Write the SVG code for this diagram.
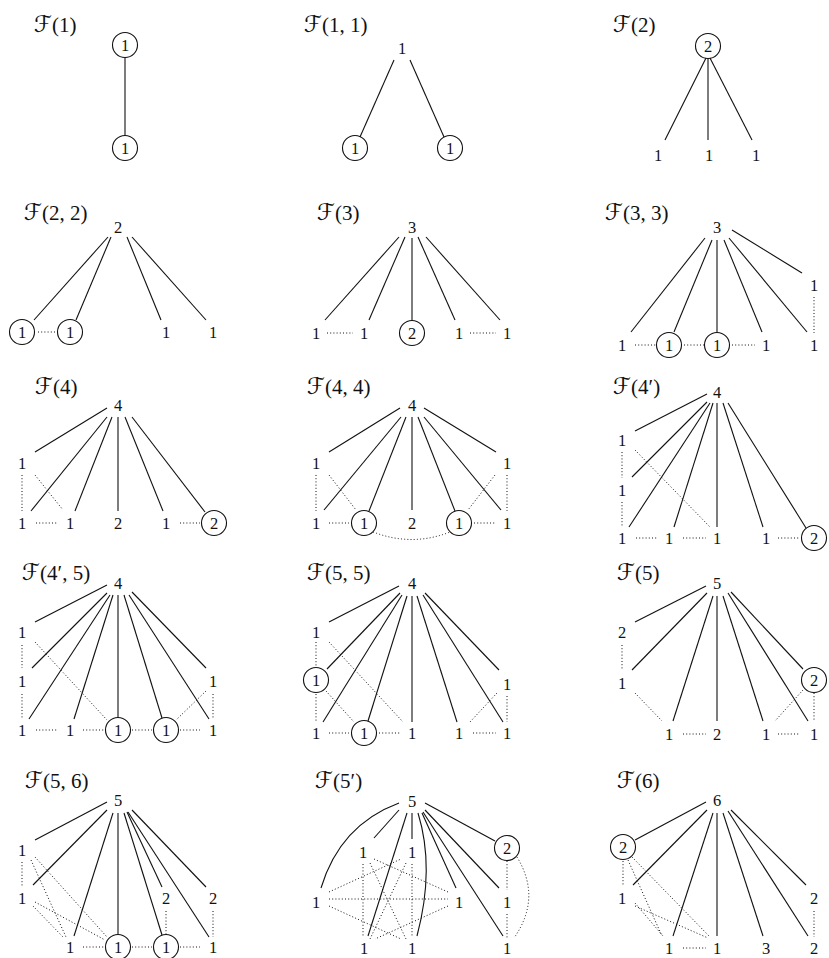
<svg xmlns="http://www.w3.org/2000/svg" width="829" height="958" viewBox="0 0 829 958">
<style>
.bg{fill:#fff}
.lbl{font-family:"Liberation Serif","DejaVu Serif","DejaVu Sans",serif;font-size:21px;fill:#111}
.sf{font-family:"DejaVu Serif","DejaVu Sans",serif;font-size:23px;font-style:italic}
.n{font-family:"Liberation Serif","DejaVu Serif",serif;font-size:16.5px;fill:#111;text-anchor:middle;dominant-baseline:central}
.c{fill:none;stroke:#111;stroke-width:1.1}
.s line,.s path{stroke:#111;stroke-width:1.1;fill:none}
.d line,.d path{stroke:#111;stroke-width:1;stroke-dasharray:1 2.2;fill:none}
</style>
<rect class="bg" x="0" y="0" width="829" height="958"/>

<!-- F(1) -->
<g id="F1">
<text class="lbl" x="34" y="32"><tspan class="sf">ℱ</tspan>(1)</text>
<g id="F1-edges"><g class="s"><line x1="125" y1="57.5" x2="125" y2="135.5"/></g></g>
<g id="F1-a"><circle class="c" cx="125" cy="45" r="12.5"/><text class="n" x="125" y="45">1</text></g>
<g id="F1-b"><circle class="c" cx="125" cy="148" r="12.5"/><text class="n" x="125" y="148">1</text></g>
</g>

<!-- F(1,1) -->
<g id="F11">
<text class="lbl" x="304" y="32"><tspan class="sf">ℱ</tspan>(1, 1)</text>
<g id="F11-edges"><g class="s"><line x1="394" y1="60" x2="360" y2="137"/><line x1="410" y1="60" x2="444" y2="137"/></g></g>
<g id="F11-t"><text class="n" x="402" y="48">1</text></g>
<g id="F11-a"><circle class="c" cx="355" cy="148" r="12.5"/><text class="n" x="355" y="148">1</text></g>
<g id="F11-b"><circle class="c" cx="450" cy="148" r="12.5"/><text class="n" x="450" y="148">1</text></g>
</g>

<!-- F(2) -->
<g id="F2">
<text class="lbl" x="613" y="32"><tspan class="sf">ℱ</tspan>(2)</text>
<g id="F2-edges"><g class="s"><line x1="706" y1="58" x2="665" y2="140"/><line x1="708" y1="58.5" x2="708" y2="140"/><line x1="710" y1="58" x2="752" y2="140"/></g></g>
<g id="F2-t"><circle class="c" cx="708" cy="46" r="12.5"/><text class="n" x="708" y="46">2</text></g>
<g id="F2-a"><text class="n" x="658" y="155">1</text></g>
<g id="F2-b"><text class="n" x="709" y="155">1</text></g>
<g id="F2-c"><text class="n" x="756" y="155">1</text></g>
</g>

<!-- F(2,2) -->
<g id="F22">
<text class="lbl" x="24" y="220"><tspan class="sf">ℱ</tspan>(2, 2)</text>
<g id="F22-edges">
<g class="s"><line x1="108" y1="237" x2="34" y2="320"/><line x1="111" y1="237" x2="76" y2="320"/><line x1="127" y1="237" x2="161" y2="320"/><line x1="132" y1="237" x2="206" y2="320"/></g>
<g class="d"><line x1="38" y1="332" x2="55" y2="332"/></g>
</g>
<g id="F22-t"><text class="n" x="118" y="227">2</text></g>
<g id="F22-a"><circle class="c" cx="22" cy="332" r="12.5"/><text class="n" x="22" y="332">1</text></g>
<g id="F22-b"><circle class="c" cx="70" cy="332" r="12.5"/><text class="n" x="70" y="332">1</text></g>
<g id="F22-c"><text class="n" x="166" y="332">1</text></g>
<g id="F22-d"><text class="n" x="213" y="332">1</text></g>
</g>

<!-- F(3) -->
<g id="F3">
<text class="lbl" x="317" y="220"><tspan class="sf">ℱ</tspan>(3)</text>
<g id="F3-edges">
<g class="s"><line x1="399" y1="237" x2="325" y2="320"/><line x1="405" y1="237" x2="369" y2="320"/><line x1="412" y1="238" x2="412" y2="320.5"/><line x1="418" y1="237" x2="455" y2="320"/><line x1="426" y1="237" x2="500" y2="320"/></g>
<g class="d"><line x1="327" y1="333" x2="353" y2="333"/><line x1="470" y1="333" x2="496" y2="333"/></g>
</g>
<g id="F3-t"><text class="n" x="412" y="227">3</text></g>
<g id="F3-a"><text class="n" x="316" y="333">1</text></g>
<g id="F3-b"><text class="n" x="364" y="333">1</text></g>
<g id="F3-c"><circle class="c" cx="412" cy="333" r="12.5"/><text class="n" x="412" y="333">2</text></g>
<g id="F3-d"><text class="n" x="459" y="333">1</text></g>
<g id="F3-e"><text class="n" x="507" y="333">1</text></g>
</g>

<!-- F(3,3) -->
<g id="F33">
<text class="lbl" x="605" y="220"><tspan class="sf">ℱ</tspan>(3, 3)</text>
<g id="F33-edges">
<g class="s"><line x1="705" y1="238" x2="631" y2="332"/><line x1="712" y1="240" x2="674" y2="332"/><line x1="717" y1="240" x2="717" y2="332.5"/><line x1="724" y1="240" x2="762" y2="332"/><line x1="729" y1="238" x2="807" y2="332"/><line x1="732" y1="230" x2="802" y2="273"/></g>
<g class="d"><line x1="814" y1="297" x2="814" y2="333"/><line x1="635" y1="345" x2="656" y2="345"/><line x1="684" y1="345" x2="704" y2="345"/><line x1="732" y1="345" x2="755" y2="345"/></g>
</g>
<g id="F33-t"><text class="n" x="717" y="227">3</text></g>
<g id="F33-u"><text class="n" x="814" y="285">1</text></g>
<g id="F33-a"><text class="n" x="622" y="345">1</text></g>
<g id="F33-b"><circle class="c" cx="669" cy="345" r="12.5"/><text class="n" x="669" y="345">1</text></g>
<g id="F33-c"><circle class="c" cx="717" cy="345" r="12.5"/><text class="n" x="717" y="345">1</text></g>
<g id="F33-d"><text class="n" x="766" y="345">1</text></g>
<g id="F33-e"><text class="n" x="814" y="345">1</text></g>
</g>

<!-- F(4) -->
<g id="F4">
<text class="lbl" x="35" y="394"><tspan class="sf">ℱ</tspan>(4)</text>
<g id="F4-edges">
<g class="s"><line x1="107" y1="408" x2="35" y2="452"/><line x1="107" y1="417" x2="31" y2="511"/><line x1="112" y1="417" x2="75" y2="511"/><line x1="118" y1="417" x2="118" y2="511"/><line x1="125" y1="417" x2="163" y2="511"/><line x1="132" y1="417" x2="205" y2="512"/></g>
<g class="d"><line x1="22" y1="475" x2="22" y2="511"/><line x1="35" y1="475" x2="63" y2="510"/><line x1="36" y1="523" x2="58" y2="523"/><line x1="180" y1="523" x2="200" y2="523"/></g>
</g>
<g id="F4-t"><text class="n" x="118" y="405">4</text></g>
<g id="F4-u"><text class="n" x="22" y="463">1</text></g>
<g id="F4-a"><text class="n" x="22" y="523">1</text></g>
<g id="F4-b"><text class="n" x="70" y="523">1</text></g>
<g id="F4-c"><text class="n" x="118" y="523">2</text></g>
<g id="F4-d"><text class="n" x="166" y="523">1</text></g>
<g id="F4-e"><circle class="c" cx="214" cy="523" r="12.5"/><text class="n" x="214" y="523">2</text></g>
</g>

<!-- F(4,4) -->
<g id="F44">
<text class="lbl" x="307" y="394"><tspan class="sf">ℱ</tspan>(4, 4)</text>
<g id="F44-edges">
<g class="s"><line x1="400" y1="408" x2="329" y2="452"/><line x1="401" y1="417" x2="324" y2="510"/><line x1="406" y1="417" x2="369" y2="511"/><line x1="412" y1="417" x2="412" y2="510"/><line x1="418" y1="417" x2="455" y2="511"/><line x1="424" y1="417" x2="501" y2="510"/><line x1="424" y1="408" x2="496" y2="452"/></g>
<g class="d"><line x1="316" y1="475" x2="316" y2="511"/><line x1="507" y1="475" x2="507" y2="511"/><line x1="329" y1="475" x2="356" y2="510"/><line x1="495" y1="475" x2="468" y2="510"/><line x1="329" y1="523" x2="349" y2="523"/><line x1="474" y1="523" x2="495" y2="523"/><path d="M 373 532 Q 412 547 450 532"/></g>
</g>
<g id="F44-t"><text class="n" x="412" y="405">4</text></g>
<g id="F44-u"><text class="n" x="316" y="463">1</text></g>
<g id="F44-v"><text class="n" x="507" y="463">1</text></g>
<g id="F44-a"><text class="n" x="316" y="523">1</text></g>
<g id="F44-b"><circle class="c" cx="364" cy="523" r="12.5"/><text class="n" x="364" y="523">1</text></g>
<g id="F44-c"><text class="n" x="412" y="523">2</text></g>
<g id="F44-d"><circle class="c" cx="459" cy="523" r="12.5"/><text class="n" x="459" y="523">1</text></g>
<g id="F44-e"><text class="n" x="507" y="523">1</text></g>
</g>

<!-- F(4') -->
<g id="F4p">
<text class="lbl" x="613" y="394"><tspan class="sf">ℱ</tspan>(4′)</text>
<g id="F4p-edges">
<g class="s"><line x1="707" y1="394" x2="635" y2="431"/><line x1="707" y1="402" x2="632" y2="477"/><line x1="710" y1="403" x2="629" y2="527"/><line x1="713" y1="403" x2="674" y2="527"/><line x1="717" y1="403" x2="717" y2="527"/><line x1="723" y1="403" x2="763" y2="527"/><line x1="728" y1="403" x2="806" y2="528"/></g>
<g class="d"><line x1="622" y1="452" x2="622" y2="478"/><line x1="622" y1="502" x2="622" y2="527"/><line x1="635" y1="450" x2="710" y2="527"/><line x1="636" y1="538" x2="658" y2="538"/><line x1="683" y1="538" x2="706" y2="538"/><line x1="778" y1="538" x2="800" y2="538"/></g>
</g>
<g id="F4p-t"><text class="n" x="717" y="392">4</text></g>
<g id="F4p-u"><text class="n" x="622" y="440">1</text></g>
<g id="F4p-v"><text class="n" x="622" y="490">1</text></g>
<g id="F4p-a"><text class="n" x="622" y="538">1</text></g>
<g id="F4p-b"><text class="n" x="669" y="538">1</text></g>
<g id="F4p-c"><text class="n" x="717" y="538">1</text></g>
<g id="F4p-d"><text class="n" x="766" y="538">1</text></g>
<g id="F4p-e"><circle class="c" cx="814" cy="538" r="12.5"/><text class="n" x="814" y="538">2</text></g>
</g>

<!-- F(4',5) -->
<g id="F4p5">
<text class="lbl" x="22" y="580"><tspan class="sf">ℱ</tspan>(4′, 5)</text>
<g id="F4p5-edges">
<g class="s"><line x1="107" y1="585" x2="35" y2="622"/><line x1="107" y1="593" x2="32" y2="668"/><line x1="110" y1="595" x2="29" y2="719"/><line x1="113" y1="595" x2="74" y2="719"/><line x1="118" y1="595" x2="118" y2="717.5"/><line x1="124" y1="595" x2="162" y2="718"/><line x1="129" y1="595" x2="209" y2="719"/><line x1="132" y1="592" x2="206" y2="668"/></g>
<g class="d"><line x1="22" y1="645" x2="22" y2="668"/><line x1="22" y1="694" x2="22" y2="718"/><line x1="213" y1="694" x2="213" y2="718"/><line x1="35" y1="642" x2="107" y2="720"/><line x1="206" y1="691" x2="176" y2="720"/><line x1="36" y1="730" x2="58" y2="730"/><line x1="83" y1="730" x2="104" y2="730"/><line x1="132" y1="730" x2="152" y2="730"/><line x1="180" y1="730" x2="200" y2="730"/></g>
</g>
<g id="F4p5-t"><text class="n" x="118" y="583">4</text></g>
<g id="F4p5-u"><text class="n" x="22" y="632">1</text></g>
<g id="F4p5-v"><text class="n" x="22" y="681">1</text></g>
<g id="F4p5-w"><text class="n" x="213" y="681">1</text></g>
<g id="F4p5-a"><text class="n" x="22" y="730">1</text></g>
<g id="F4p5-b"><text class="n" x="70" y="730">1</text></g>
<g id="F4p5-c"><circle class="c" cx="118" cy="730" r="12.5"/><text class="n" x="118" y="730">1</text></g>
<g id="F4p5-d"><circle class="c" cx="166" cy="730" r="12.5"/><text class="n" x="166" y="730">1</text></g>
<g id="F4p5-e"><text class="n" x="213" y="730">1</text></g>
</g>

<!-- F(5,5) -->
<g id="F55">
<text class="lbl" x="307" y="580"><tspan class="sf">ℱ</tspan>(5, 5)</text>
<g id="F55-edges">
<g class="s"><line x1="399" y1="586" x2="329" y2="622"/><line x1="400" y1="593" x2="327" y2="669"/><line x1="402" y1="595" x2="323" y2="722"/><line x1="407" y1="596" x2="368" y2="721"/><line x1="412" y1="596" x2="412" y2="722"/><line x1="417" y1="596" x2="457" y2="722"/><line x1="423" y1="595" x2="503" y2="722"/><line x1="425" y1="593" x2="499" y2="670"/></g>
<g class="d"><line x1="316" y1="642" x2="316" y2="667"/><line x1="316" y1="694" x2="316" y2="721"/><line x1="329" y1="642" x2="403" y2="722"/><line x1="326" y1="691" x2="354" y2="722"/><line x1="507" y1="696" x2="507" y2="722"/><line x1="497" y1="693" x2="470" y2="722"/><line x1="329" y1="733" x2="349" y2="733"/><line x1="379" y1="733" x2="400" y2="733"/><line x1="473" y1="733" x2="496" y2="733"/></g>
</g>
<g id="F55-t"><text class="n" x="412" y="583">4</text></g>
<g id="F55-u"><text class="n" x="316" y="632">1</text></g>
<g id="F55-v"><circle class="c" cx="316" cy="680" r="12.5"/><text class="n" x="316" y="680">1</text></g>
<g id="F55-w"><text class="n" x="507" y="684">1</text></g>
<g id="F55-a"><text class="n" x="316" y="733">1</text></g>
<g id="F55-b"><circle class="c" cx="364" cy="733" r="12.5"/><text class="n" x="364" y="733">1</text></g>
<g id="F55-c"><text class="n" x="412" y="733">1</text></g>
<g id="F55-d"><text class="n" x="459" y="733">1</text></g>
<g id="F55-e"><text class="n" x="507" y="733">1</text></g>
</g>

<!-- F(5) -->
<g id="F5">
<text class="lbl" x="617" y="580"><tspan class="sf">ℱ</tspan>(5)</text>
<g id="F5-edges">
<g class="s"><line x1="706" y1="586" x2="635" y2="622"/><line x1="707" y1="593" x2="632" y2="670"/><line x1="713" y1="596" x2="673" y2="721"/><line x1="717" y1="596" x2="717" y2="721"/><line x1="723" y1="596" x2="763" y2="721"/><line x1="728" y1="593" x2="808" y2="721"/><line x1="731" y1="592" x2="803" y2="669"/></g>
<g class="d"><line x1="622" y1="645" x2="622" y2="670"/><line x1="635" y1="693" x2="662" y2="721"/><line x1="814" y1="693" x2="814" y2="721"/><line x1="803" y1="690" x2="775" y2="721"/><line x1="683" y1="734" x2="706" y2="734"/><line x1="778" y1="734" x2="800" y2="734"/></g>
</g>
<g id="F5-t"><text class="n" x="717" y="583">5</text></g>
<g id="F5-u"><text class="n" x="622" y="632">2</text></g>
<g id="F5-v"><text class="n" x="622" y="683">1</text></g>
<g id="F5-w"><circle class="c" cx="814" cy="680" r="12.5"/><text class="n" x="814" y="680">2</text></g>
<g id="F5-a"><text class="n" x="669" y="734">1</text></g>
<g id="F5-b"><text class="n" x="717" y="734">2</text></g>
<g id="F5-c"><text class="n" x="766" y="734">1</text></g>
<g id="F5-d"><text class="n" x="814" y="734">1</text></g>
</g>

<!-- F(5,6) -->
<g id="F56">
<text class="lbl" x="25" y="788"><tspan class="sf">ℱ</tspan>(5, 6)</text>
<g id="F56-edges">
<g class="s"><line x1="107" y1="802" x2="35" y2="840"/><line x1="107" y1="810" x2="33" y2="885"/><line x1="113" y1="813" x2="74" y2="936"/><line x1="118" y1="813" x2="118" y2="934.5"/><line x1="124" y1="813" x2="162" y2="935"/><line x1="127" y1="812" x2="162" y2="887"/><line x1="128" y1="812" x2="209" y2="937"/><line x1="132" y1="810" x2="206" y2="887"/></g>
<g class="d"><line x1="22" y1="862" x2="22" y2="886"/><line x1="166" y1="911" x2="166" y2="934"/><line x1="213" y1="911" x2="213" y2="937"/><line x1="31" y1="860" x2="66" y2="937"/><line x1="35" y1="857" x2="107" y2="937"/><line x1="33" y1="906" x2="63" y2="937"/><line x1="35" y1="902" x2="105" y2="940"/><line x1="83" y1="947" x2="104" y2="947"/><line x1="132" y1="947" x2="152" y2="947"/><line x1="180" y1="947" x2="200" y2="947"/></g>
</g>
<g id="F56-t"><text class="n" x="118" y="800">5</text></g>
<g id="F56-u"><text class="n" x="22" y="850">1</text></g>
<g id="F56-v"><text class="n" x="22" y="898">1</text></g>
<g id="F56-w"><text class="n" x="166" y="898">2</text></g>
<g id="F56-x"><text class="n" x="213" y="898">2</text></g>
<g id="F56-a"><text class="n" x="70" y="947">1</text></g>
<g id="F56-b"><circle class="c" cx="118" cy="947" r="12.5"/><text class="n" x="118" y="947">1</text></g>
<g id="F56-c"><circle class="c" cx="166" cy="947" r="12.5"/><text class="n" x="166" y="947">1</text></g>
<g id="F56-d"><text class="n" x="213" y="947">1</text></g>
</g>

<!-- F(5') -->
<g id="F5p">
<text class="lbl" x="315" y="788"><tspan class="sf">ℱ</tspan>(5′)</text>
<g id="F5p-edges">
<g class="s"><path d="M 399 803 Q 340 825 321 888"/><line x1="399" y1="810" x2="374" y2="838"/><line x1="407" y1="813" x2="368" y2="936"/><line x1="412" y1="813" x2="412" y2="839"/><path d="M 418 813 Q 435 868 417 936"/><line x1="422" y1="813" x2="456" y2="888"/><line x1="423" y1="812" x2="503" y2="936"/><line x1="425" y1="810" x2="499" y2="888"/><line x1="425" y1="803" x2="495" y2="841"/></g>
<g class="d"><line x1="329" y1="899" x2="448" y2="899"/><line x1="363" y1="864" x2="363" y2="936"/><line x1="412" y1="864" x2="412" y2="936"/><line x1="329" y1="892" x2="401" y2="859"/><line x1="448" y1="892" x2="374" y2="859"/><line x1="329" y1="906" x2="401" y2="939"/><line x1="448" y1="906" x2="375" y2="939"/><line x1="370" y1="863" x2="406" y2="939"/><line x1="406" y1="863" x2="370" y2="939"/><line x1="507" y1="861" x2="507" y2="890"/><line x1="507" y1="914" x2="507" y2="938"/><path d="M 517 857 Q 542 898 514 938"/></g>
</g>
<g id="F5p-t"><text class="n" x="412" y="801">5</text></g>
<g id="F5p-r2"><circle class="c" cx="507" cy="848" r="12.5"/><text class="n" x="507" y="848">2</text></g>
<g id="F5p-a"><text class="n" x="363" y="852">1</text></g>
<g id="F5p-b"><text class="n" x="412" y="852">1</text></g>
<g id="F5p-l"><text class="n" x="316" y="902">1</text></g>
<g id="F5p-m"><text class="n" x="459" y="902">1</text></g>
<g id="F5p-r"><text class="n" x="507" y="902">1</text></g>
<g id="F5p-c"><text class="n" x="364" y="948">1</text></g>
<g id="F5p-d"><text class="n" x="412" y="948">1</text></g>
<g id="F5p-e"><text class="n" x="507" y="948">1</text></g>
</g>

<!-- F(6) -->
<g id="F6">
<text class="lbl" x="617" y="788"><tspan class="sf">ℱ</tspan>(6)</text>
<g id="F6-edges">
<g class="s"><line x1="706" y1="802" x2="635" y2="840"/><line x1="707" y1="810" x2="633" y2="885"/><line x1="713" y1="813" x2="673" y2="936"/><line x1="717" y1="813" x2="717" y2="936"/><line x1="723" y1="813" x2="763" y2="936"/><line x1="728" y1="811" x2="808" y2="936"/><line x1="731" y1="810" x2="806" y2="885"/></g>
<g class="d"><line x1="623" y1="861" x2="623" y2="886"/><line x1="628" y1="860" x2="662" y2="936"/><line x1="632" y1="857" x2="709" y2="936"/><line x1="635" y1="903" x2="663" y2="936"/><line x1="635" y1="906" x2="708" y2="938"/><line x1="814" y1="911" x2="814" y2="937"/><line x1="683" y1="948" x2="706" y2="948"/></g>
</g>
<g id="F6-t"><text class="n" x="717" y="800">6</text></g>
<g id="F6-u"><circle class="c" cx="623" cy="847" r="12.5"/><text class="n" x="623" y="847">2</text></g>
<g id="F6-v"><text class="n" x="622" y="898">1</text></g>
<g id="F6-w"><text class="n" x="814" y="898">2</text></g>
<g id="F6-a"><text class="n" x="669" y="948">1</text></g>
<g id="F6-b"><text class="n" x="717" y="948">1</text></g>
<g id="F6-c"><text class="n" x="766" y="948">3</text></g>
<g id="F6-d"><text class="n" x="814" y="948">2</text></g>
</g>
</svg>
